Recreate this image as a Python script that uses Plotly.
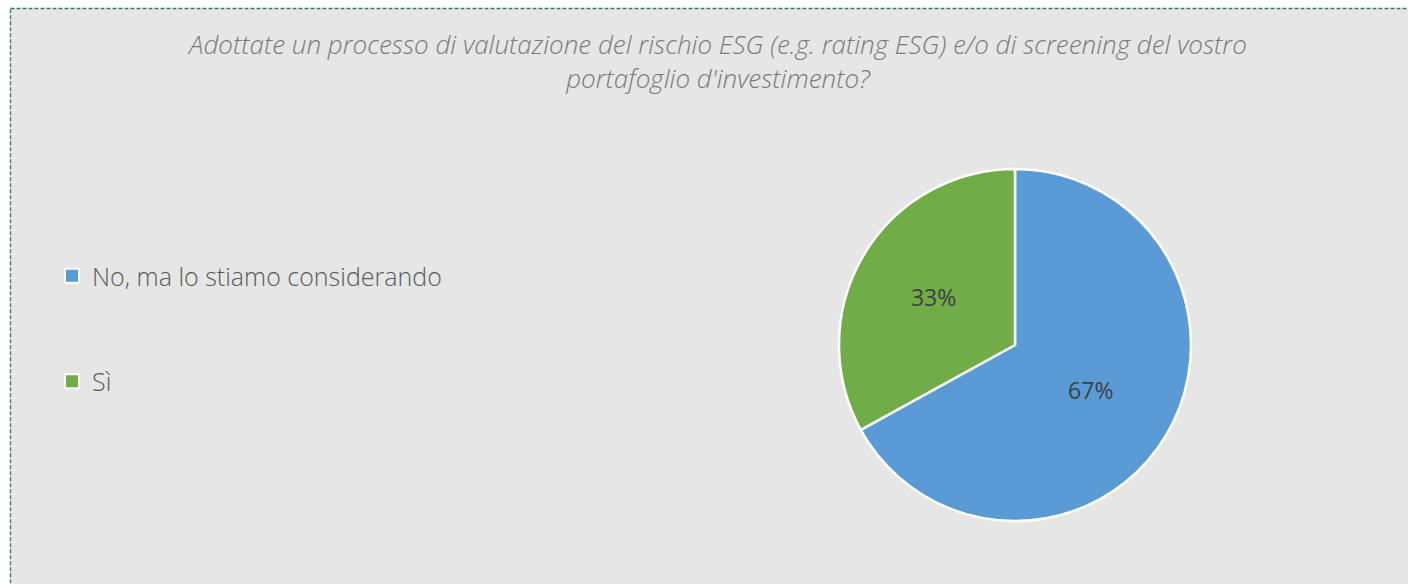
import plotly.graph_objects as go

labels = ["No, ma lo stiamo considerando", "Sì"]
values = [67, 33]
colors = ["#5b9bd5", "#70ad47"]
title_text = ("Adottate un processo di valutazione del rischio ESG (e.g. rating ESG) e/o di screening del vostro"
              "<br>portafoglio d'investimento?")

W, H = 1408, 584
cx, cy, r = 1015, 345, 176

fig = go.Figure()
fig.add_trace(go.Pie(
    labels=labels, values=values, sort=False, direction="clockwise", rotation=0,
    marker=dict(colors=colors, line=dict(color="white", width=2.5)),
    textinfo="percent", texttemplate="%{percent:.0%}", textposition="inside",
    insidetextorientation="horizontal",
    textfont=dict(color="#404040", size=23, family="Open Sans"),
    showlegend=False,
    domain=dict(x=[(cx - r) / W, (cx + r) / W], y=[1 - (cy + r) / H, 1 - (cy - r) / H]),
))
for i, (lab, col) in enumerate(zip(labels, colors)):
    fig.add_trace(go.Scatter(
        x=[None], y=[None], mode="markers", name=lab, legendgroup=f"g{i}",
        marker=dict(symbol="square", size=14, color=col, line=dict(color="white", width=2)),
    ))

border = dict(color="#2e7d5e", width=1.3, dash="4px,2px")
x_left = 10.5 / W
y_top = 1 - 8.5 / H
fig.update_layout(
    width=W, height=H,
    margin=dict(l=0, r=0, t=0, b=0),
    paper_bgcolor="#e6e6e6", plot_bgcolor="rgba(0,0,0,0)",
    xaxis=dict(visible=False), yaxis=dict(visible=False),
    font=dict(family="Open Sans", color="#595959"),
    title=dict(text=title_text, x=718 / W, xanchor="center", y=1 - 54 / H, yanchor="top",
               font=dict(size=26, color="#7a7a7a", family="Open Sans", style="italic", weight=300)),
    legend=dict(x=52 / W, xanchor="left", y=1 - 253 / H, yanchor="top",
                traceorder="grouped", tracegroupgap=70, bgcolor="rgba(0,0,0,0)",
                font=dict(size=25, color="#595959", family="Open Sans", weight=300)),
    shapes=[
        dict(type="rect", xref="paper", yref="paper", x0=0.0, x1=x_left, y0=-0.05, y1=1.05,
             fillcolor="white", line=dict(width=0), layer="below"),
        dict(type="rect", xref="paper", yref="paper", x0=0.0, x1=1.05, y0=y_top, y1=1.05,
             fillcolor="white", line=dict(width=0), layer="below"),
        dict(type="line", xref="paper", yref="paper", x0=x_left, x1=1.05, y0=y_top, y1=y_top,
             line=border, layer="below"),
        dict(type="line", xref="paper", yref="paper", x0=x_left, x1=x_left, y0=-0.05, y1=y_top,
             line=border, layer="below"),
    ],
)
fig.write_html(
    "out.html",
    config={"displayModeBar": False},
    post_script="document.body.style.margin='0';document.body.style.overflow='hidden';",
)
